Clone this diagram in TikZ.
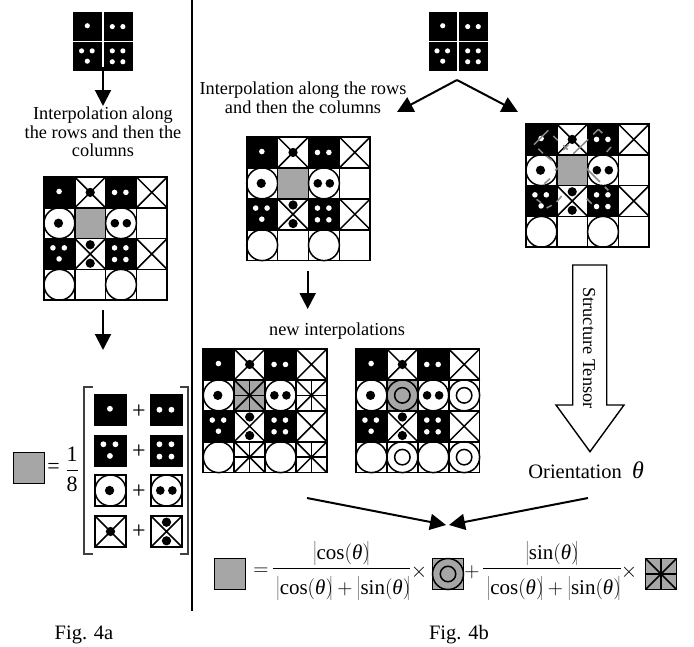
\documentclass[tikz,border=0pt]{standalone}
\usepackage{fix-cm}
\usepackage{fontspec}
\setmainfont{Liberation Serif}
\usetikzlibrary{arrows.meta}
\definecolor{cellgray}{HTML}{A6A6A6}
\definecolor{dashgray}{HTML}{8C8C8C}
\newcommand{\txtsize}{\fontsize{18.3}{18.6}\selectfont}
\newcommand{\figsize}{\fontsize{20.5}{22}\selectfont}
\newcommand{\thet}{\mbox{\itshape θ}}
\newcommand{\absc}{\left|\rule[-8pt]{0pt}{25pt}\mbox{cos}\!\left(\rule[-5.5pt]{0pt}{20pt}\thet\right)\!\right|}
\newcommand{\abss}{\left|\rule[-8pt]{0pt}{25pt}\mbox{sin}\!\left(\rule[-5.5pt]{0pt}{20pt}\thet\right)\!\right|}
\tikzset{
  lbl/.style={font=\txtsize,inner sep=0pt,align=center},
  figlbl/.style={font=\figsize,inner sep=0pt,align=center},
  fraclbl/.style={font=\fontsize{21}{23}\selectfont,inner sep=0pt,align=center},
  fatarrow/.style={line width=2pt,-{Triangle[length=16pt,width=16pt]}},
  gridline/.style={line width=1.7pt,line cap=rect},
  celloutline/.style={line width=1.5pt},
  whitedot/.style={fill=white,draw=none},
  blackdot/.style={fill=black,draw=none},
  gdash/.style={draw=dashgray,line width=1.5pt},
}
% cell contents, drawn in a unit square
\newcommand{\cBlack}{\fill[black] (0,0) rectangle (1,1);}
\newcommand{\cA}{\cBlack\fill[whitedot] (.49,.47) circle (.09);}
\newcommand{\cB}{\cBlack\fill[whitedot] (.29,.5) circle (.09);\fill[whitedot] (.66,.5) circle (.09);}
\newcommand{\cC}{\cBlack\foreach \p in {(.29,.3),(.66,.3),(.49,.66)}{\fill[whitedot] \p circle (.09);}}
\newcommand{\cD}{\cBlack\foreach \p in {(.29,.3),(.66,.3),(.29,.68),(.66,.68)}{\fill[whitedot] \p circle (.09);}}
\newcommand{\cX}{\draw[celloutline] (0,0) -- (1,1) (1,0) -- (0,1);}
\newcommand{\cXa}{\cX\fill[blackdot] (.5,.5) circle (.15);}
\newcommand{\cXb}{\cX\fill[blackdot] (.5,.2) circle (.15);\fill[blackdot] (.5,.8) circle (.15);}
\newcommand{\cO}{\draw[celloutline,fill=white] (.5,.5) circle (.5);}
\newcommand{\cOa}{\cO\fill[blackdot] (.47,.5) circle (.15);}
\newcommand{\cOb}{\cO\fill[blackdot] (.3,.5) circle (.14);\fill[blackdot] (.69,.5) circle (.14);}
\newcommand{\cStar}{\cX\draw[celloutline] (.5,0) -- (.5,1) (0,.5) -- (1,.5);}
\newcommand{\cRing}{\cO\draw[celloutline] (.5,.5) circle (.25);}
\newcommand{\cGray}{\fill[cellgray] (0,0) rectangle (1,1);}
\newcommand{\cGStar}{\cGray\cStar}
\newcommand{\cGRing}{\cGray\draw[celloutline] (.5,.5) circle (.5) (.5,.5) circle (.25);}
\newcommand{\cNone}{}
\newcommand{\framed}[4]{\begin{scope}[shift={(#1,#2)},x=#3pt,y=-#3pt]\fill[white] (0,0) rectangle (1,1);#4\draw[gridline] (0,0) rectangle (1,1);\end{scope}}
\newcommand{\plain}[4]{\begin{scope}[shift={(#1,#2)},x=#3pt,y=-#3pt]#4\end{scope}}
\newcommand{\gridframe}[3]{\begin{scope}[shift={(#1,#2)},x=#3pt,y=-#3pt]\foreach \k in {0,1,2,3,4}{\draw[gridline] (\k,0) -- (\k,4) (0,\k) -- (4,\k);}\end{scope}}
\newcommand{\rowcells}[7]{%
 \pgfmathsetmacro{\xa}{#1}\pgfmathsetmacro{\xb}{#1+#3}\pgfmathsetmacro{\xc}{#1+2*#3}\pgfmathsetmacro{\xd}{#1+3*#3}%
 \plain{\xa}{#2}{#3}{#4}\plain{\xb}{#2}{#3}{#5}\plain{\xc}{#2}{#3}{#6}\plain{\xd}{#2}{#3}{#7}}
\newcommand{\dice}[2]{%
 \pgfmathsetmacro{\dxb}{#1+30.7}\pgfmathsetmacro{\dyb}{#2+30}%
 \plain{#1}{#2}{28.6}{\cA}\plain{\dxb}{#2}{28.6}{\cB}\plain{#1}{\dyb}{28.6}{\cC}\plain{\dxb}{\dyb}{28.6}{\cD}}
\newcommand{\fourgrid}[8]{%
 \pgfmathsetmacro{\gyb}{#2+#3}\pgfmathsetmacro{\gyc}{#2+2*#3}\pgfmathsetmacro{\gyd}{#2+3*#3}%
 \edef\gx{#1}\edef\gyA{#2}\edef\gs{#3}%
 \let\gyB\gyb\let\gyC\gyc\let\gyD\gyd
 \rowcells{\gx}{\gyA}{\gs}{\cA}{\cXa}{\cB}{\cX}%
 \rowcells{\gx}{\gyB}{\gs}{\cOa}{#4}{\cOb}{#5}%
 \rowcells{\gx}{\gyC}{\gs}{\cC}{\cXb}{\cD}{\cX}%
 \rowcells{\gx}{\gyD}{\gs}{\cO}{#6}{\cO}{#7}%
 \gridframe{\gx}{\gyA}{\gs}}
\begin{document}
\begin{tikzpicture}[x=1pt,y=-1pt]
\useasboundingbox (0,0) rectangle (694,646);
\fill[white] (0,0) rectangle (694,646);

% ---------- Fig. 4a ----------
\dice{73.3}{12.3}
\coordinate (topA) at (103,67);
\coordinate (tipA) at (103,106);
\draw[fatarrow] (topA) -- (tipA);
\node[lbl] (txtA) at (103,132) {Interpolation along\\the rows and then the\\columns};
\fourgrid{44}{177}{30.8}{\cGray}{\cNone}{\cNone}{\cNone}{}
\coordinate (gridAb) at (103,310);
\coordinate (tipAb) at (103,350);
\draw[fatarrow] (gridAb) -- (tipAb);

\framed{13.5}{452.5}{31}{\cGray}
\node[lbl,font=\fontsize{22}{24}\selectfont] (eqA) at (53.5,468) {=};
\node[lbl,font=\fontsize{22}{24}\selectfont] (oneA) at (72,469) {$\displaystyle\frac{\mbox{1}}{\mbox{8}}$};

\draw[line width=1.4pt,draw=black!75] (93,387) -- (84,387) -- (84,554) -- (93,554);
\draw[line width=1.4pt,draw=black!75] (180,387) -- (188,387) -- (188,554) -- (180,554);

\plain{94}{393.5}{32.5}{\cA}\plain{150}{393.5}{32.5}{\cB}
\plain{94}{434.5}{32.5}{\cC}\plain{150}{434.5}{32.5}{\cD}
\framed{95}{475}{31}{\cOa}\framed{151}{475}{31}{\cOb}
\framed{95}{516}{31}{\cXa}\framed{151}{516}{31}{\cXb}
\node[lbl,font=\fontsize{24}{26}\selectfont] (pa) at (139,411.5) {+};
\node[lbl,font=\fontsize{24}{26}\selectfont] (pb) at (139,451.5) {+};
\node[lbl,font=\fontsize{24}{26}\selectfont] (pc) at (139,491.5) {+};
\node[lbl,font=\fontsize{24}{26}\selectfont] (pd) at (139,531.5) {+};

\coordinate (sepT) at (192,0);
\coordinate (sepB) at (192,611);
\draw[line width=2pt] (sepT) -- (sepB);
\node[figlbl] (figA) at (84,635) {Fig. 4a};

% ---------- Fig. 4b ----------
\dice{428.7}{12.3}
\coordinate (apex) at (457,80);
\coordinate (tipL) at (397,112);
\coordinate (tipR) at (518,112);
\draw[fatarrow] (apex) -- (tipL);
\draw[fatarrow] (apex) -- (tipR);
\node[lbl] (txtB) at (303,98) {Interpolation along the rows\\and then the columns};

\fourgrid{246.7}{137}{30.9}{\cGray}{\cNone}{\cNone}{\cNone}{}
\coordinate (gridBb) at (307.7,271);
\coordinate (tipBb) at (307.7,309);
\draw[fatarrow] (gridBb) -- (tipBb);
\node[lbl,anchor=west] (newint) at (269,331) {new interpolations};

\fourgrid{526}{124}{30.8}{\cGray}{\cNone}{\cNone}{\cNone}{}
\begin{scope}[shift={(525,122)},x=.3333pt,y=-.3333pt]
\foreach \a/\b/\c/\d in {27/68/70/25,40/80/54/94,85/42/98/55,65/103/80/115,115/70/128/83,115/84/130/68,145/95/190/52,205/37/220/22,220/22/232/33,245/90/258/75,58/185/75/170,90/145/100/138,185/140/225/180,35/232/48/242,65/258/80/250,95/240/110/222,185/230/200/245,240/195/250/205}
  {\draw[gdash] (\a,\b) -- (\c,\d);}
\end{scope}

\fourgrid{203.3}{349}{30.9}{\cGStar}{\cStar}{\cStar}{\cStar}{}
\fourgrid{356}{349}{30.9}{\cGRing}{\cRing}{\cRing}{\cRing}{}

% structure tensor arrow
\coordinate (sa) at (572.7,265);
\coordinate (sb) at (606.7,265);
\coordinate (sc) at (606.7,405);
\coordinate (sd) at (624,405);
\coordinate (stip) at (590,451.7);
\coordinate (se) at (556,405);
\coordinate (sf) at (572.7,405);
\draw[line width=1.4pt,line join=miter] (sa) -- (sb) -- (sc) -- (sd) -- (stip) -- (se) -- (sf) -- cycle;
\node[lbl,rotate=-90] (st) at (589,348) {Structure Tensor};
\node[figlbl,anchor=east] (ori) at (644,470) {Orientation\ \ {\fontsize{24}{26}\selectfont\thet}};

\coordinate (ba) at (307,498);
\coordinate (bb) at (588,498);
\coordinate (bl) at (446,525);
\coordinate (br) at (449,525);
\draw[fatarrow] (ba) -- (bl);
\draw[fatarrow] (bb) -- (br);

\framed{214.5}{558.5}{31}{\cGray}
\node[fraclbl] (eqB) at (261,572) {$=$};
\node[fraclbl] (fa) at (341.5,572) {$\displaystyle\frac{\absc}{\rule{0pt}{24pt}\absc+\abss}$};
\node[fraclbl] (ta) at (419,572) {$\times$};
\framed{432.5}{558.5}{31}{\cGRing}
\node[fraclbl] (pe) at (472,572) {$+$};
\node[fraclbl] (fb) at (552,572) {$\displaystyle\frac{\abss}{\rule{0pt}{24pt}\absc+\abss}$};
\node[fraclbl] (tb) at (629,572) {$\times$};
\framed{645.5}{558.5}{31}{\cGStar}
\node[figlbl] (figB) at (459,635) {Fig. 4b};
\end{tikzpicture}
\end{document}
